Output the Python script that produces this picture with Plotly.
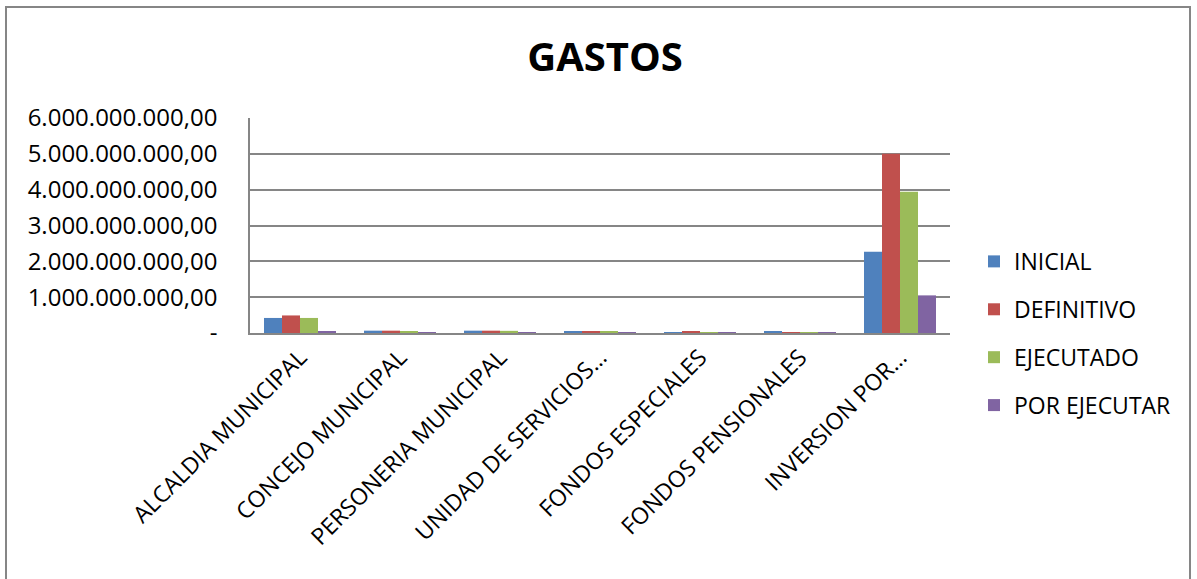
import plotly.graph_objects as go

categories = ["ALCALDIA MUNICIPAL", "CONCEJO MUNICIPAL", "PERSONERIA MUNICIPAL",
              "UNIDAD DE SERVICIOS…", "FONDOS ESPECIALES", "FONDOS PENSIONALES",
              "INVERSION POR…"]
inicial = [420e6, 65e6, 65e6, 40e6, 2e6, 40e6, 2270e6]
definitivo = [490e6, 65e6, 65e6, 40e6, 40e6, 10e6, 5000e6]
ejecutado = [420e6, 40e6, 60e6, 35e6, 15e6, 10e6, 3940e6]
por_ejecutar = [50e6, 3e6, 3e6, 3e6, 20e6, 8e6, 1050e6]

series_names = ["INICIAL", "DEFINITIVO", "EJECUTADO", "POR EJECUTAR"]
series_values = [inicial, definitivo, ejecutado, por_ejecutar]
colors = ["#4F81BD", "#C0504D", "#9BBB59", "#8064A2"]

tick_vals = [0, 1e9, 2e9, 3e9, 4e9, 5e9, 6e9]
tick_text = ["-", "1.000.000.000,00", "2.000.000.000,00", "3.000.000.000,00",
             "4.000.000.000,00", "5.000.000.000,00", "6.000.000.000,00"]

FONT = "Open Sans"
fig = go.Figure()
for name, vals, c in zip(series_names, series_values, colors):
    fig.add_trace(go.Bar(x=categories, y=vals, name=name, marker_color=c,
                         marker_line_width=0, legendgroup=name))

W, H = 1197, 579
L, R, T, B = 250, 247, 117.5, 245.5
pw, ph = W - L - R, H - T - B

def px(x):
    return (x - L) / pw

def py(y):
    return (H - B - y) / ph

fig.update_layout(
    width=W, height=H,
    margin=dict(l=L, r=R, t=T, b=B, autoexpand=False),
    paper_bgcolor="white", plot_bgcolor="white",
    font=dict(family=FONT, color="#000000", size=22),
    barmode="group", bargap=0.28, bargroupgap=0,
    title=dict(text="<b>GASTOS</b>", x=px(605), xref="paper", xanchor="center",
               y=1 - 57 / H, yref="container", yanchor="middle",
               font=dict(family=FONT, size=40, color="#000000")),
    showlegend=True,
    legend=dict(x=px(974), xanchor="left", y=py(240), yanchor="top",
                font=dict(family=FONT, size=23), tracegroupgap=15,
                traceorder="grouped", bgcolor="rgba(0,0,0,0)"),
    xaxis=dict(tickangle=-45, showgrid=False, showline=True, linecolor="#868686",
               linewidth=1.5, ticks="", tickfont=dict(size=23), automargin=False),
    yaxis=dict(range=[0, 6e9], tickvals=tick_vals, ticktext=tick_text,
               showgrid=True, gridcolor="#868686", gridwidth=1.5,
               showline=True, linecolor="#868686", linewidth=1.5,
               zeroline=False, ticks="", tickfont=dict(size=24),
               ticklabelstandoff=26, automargin=False),
    shapes=[dict(type="rect", xref="paper", yref="paper",
                 x0=px(6), x1=px(1190), y0=py(620), y1=py(6),
                 line=dict(color="#868686", width=2), fillcolor="rgba(0,0,0,0)",
                 layer="below")],
)

fig.write_html("out.html", config={"displayModeBar": False},
               post_script="document.body.style.margin='0';document.body.style.overflow='hidden';")
